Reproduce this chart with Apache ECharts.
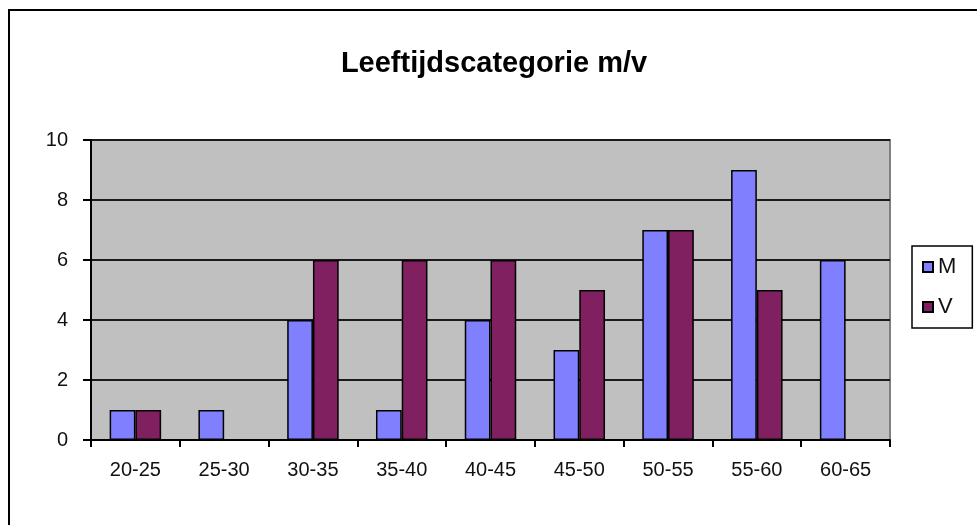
<!DOCTYPE html>
<html>
<head>
<meta charset="utf-8">
<script src="https://cdn.jsdelivr.net/npm/echarts@6/dist/echarts.min.js"></script>
<style>
  html, body { margin: 0; padding: 0; background: #fff; }
  #chart { width: 977px; height: 525px; }
</style>
</head>
<body>
<div id="chart"></div>
<script>
// leeftijdscategorieën en aantallen per geslacht
const categories = ['20-25', '25-30', '30-35', '35-40', '40-45', '45-50', '50-55', '55-60', '60-65'];
const mannen = [1, 1, 4, 1, 4, 3, 7, 9, 6];
const vrouwen = [1, null, 6, 6, 6, 5, 7, 5, null];
const yTicks = [0, 2, 4, 6, 8, 10];

const labelFont = { color: '#111', fontSize: 20, fontFamily: 'Liberation Sans, Arial, sans-serif' };

const myChart = echarts.init(document.getElementById('chart'), null, { renderer: 'canvas' });

const option = {
  animation: false,
  backgroundColor: '#fff',
  title: {
    text: 'Leeftijdscategorie m/v',
    left: 489,
    top: 44,
    textAlign: 'center',
    textStyle: { color: '#000', fontSize: 29, fontWeight: 'bold', fontFamily: 'Liberation Sans, Arial, sans-serif' }
  },
  graphic: [
    {
      type: 'rect',
      shape: { x: 9, y: 10, width: 1000, height: 600 },
      style: { fill: 'none', stroke: '#000', lineWidth: 2 },
      silent: true
    }
  ],
  grid: {
    left: 91, right: 87, top: 140, bottom: 85,
    show: true,
    backgroundColor: '#c0c0c0',
    borderColor: '#808080',
    borderWidth: 2
  },
  legend: {
    orient: 'vertical',
    left: 912,
    top: 246,
    padding: [10, 16, 10, 10],
    itemWidth: 10,
    itemHeight: 10,
    itemGap: 18,
    itemTextGap: 5,
    icon: 'rect',
    borderColor: '#000',
    borderWidth: 1.5,
    textStyle: Object.assign({}, labelFont, { fontSize: 22 }),
    data: ['M', 'V']
  },
  xAxis: {
    type: 'category',
    data: categories,
    axisLine: { lineStyle: { color: '#000', width: 2 } },
    axisTick: { show: true, length: 7, lineStyle: { color: '#000', width: 2 } },
    axisLabel: Object.assign({ margin: 20 }, labelFont),
    splitLine: { show: false }
  },
  yAxis: {
    type: 'value',
    min: yTicks[0],
    max: yTicks[yTicks.length - 1],
    interval: 2,
    axisLine: { show: true, lineStyle: { color: '#000', width: 2 } },
    axisTick: { show: true, length: 8, lineStyle: { color: '#000', width: 2 } },
    axisLabel: Object.assign({ margin: 23 }, labelFont),
    splitLine: { lineStyle: { color: '#1a1a1a', width: 2 } }
  },
  series: [
    {
      name: 'M',
      type: 'bar',
      data: mannen,
      barGap: '0%',
      barCategoryGap: '42%',
      itemStyle: { color: '#8080ff', borderColor: '#000', borderWidth: 1.5 }
    },
    {
      name: 'V',
      type: 'bar',
      data: vrouwen,
      itemStyle: { color: '#802060', borderColor: '#000', borderWidth: 1.5 }
    }
  ]
};

myChart.setOption(option);
</script>
</body>
</html>
